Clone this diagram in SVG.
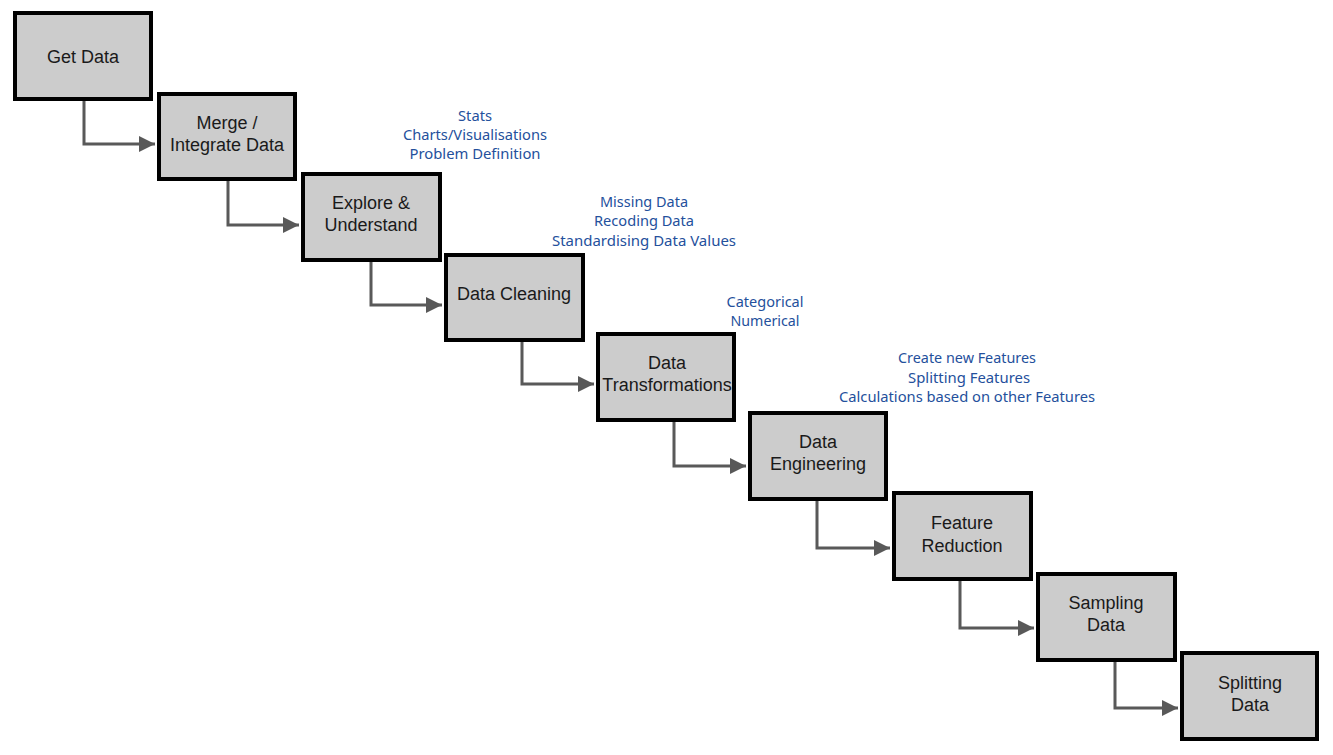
<svg xmlns="http://www.w3.org/2000/svg" width="1333" height="755" viewBox="0 0 1333 755">
<style>
.box{fill:#cccccc;stroke:#000;stroke-width:4}
.lbl{font-family:"Liberation Sans",Arial,sans-serif;font-size:18px;fill:#1a1a1a;text-anchor:middle}
.note{font-family:"Noto Sans","DejaVu Sans",sans-serif;font-size:14px;fill:#24509c;text-anchor:middle}
.conn{fill:none;stroke:#595959;stroke-width:3}
</style>
<defs>
<marker id="arr" markerUnits="userSpaceOnUse" markerWidth="16" markerHeight="16" viewBox="0 0 15 15" refX="15" refY="7.5" orient="auto">
<path d="M0,0 L15,7.5 L0,15 Z" fill="#595959"/>
</marker>
</defs>
<rect width="1333" height="755" fill="#fff"/>
<g id="connectors">
<path class="conn" d="M84,101 V144 H155" marker-end="url(#arr)"/>
<path class="conn" d="M228,181 V225 H299" marker-end="url(#arr)"/>
<path class="conn" d="M371,262 V305 H442" marker-end="url(#arr)"/>
<path class="conn" d="M522,342 V384 H594" marker-end="url(#arr)"/>
<path class="conn" d="M674,422 V466 H746" marker-end="url(#arr)"/>
<path class="conn" d="M817,501 V548 H890" marker-end="url(#arr)"/>
<path class="conn" d="M960,581 V628 H1034" marker-end="url(#arr)"/>
<path class="conn" d="M1115,662 V708 H1178" marker-end="url(#arr)"/>
</g>
<g id="n1"><rect class="box" x="15" y="13" width="136" height="86"/><text class="lbl" x="83" y="63">Get Data</text></g>
<g id="n2"><rect class="box" x="159" y="94" width="136" height="85"/><text class="lbl" x="227" y="129">Merge /</text><text class="lbl" x="227" y="151">Integrate Data</text></g>
<g id="n3"><rect class="box" x="303" y="174" width="137" height="86"/><text class="lbl" x="371" y="209">Explore &amp;</text><text class="lbl" x="371" y="231">Understand</text></g>
<g id="n4"><rect class="box" x="446" y="255" width="137" height="85"/><text class="lbl" x="514" y="300">Data Cleaning</text></g>
<g id="n5"><rect class="box" x="598" y="334" width="136" height="86"/><text class="lbl" x="667" y="369">Data</text><text class="lbl" x="667" y="391">Transformations</text></g>
<g id="n6"><rect class="box" x="750" y="413" width="136" height="86"/><text class="lbl" x="818" y="448">Data</text><text class="lbl" x="818" y="470">Engineering</text></g>
<g id="n7"><rect class="box" x="894" y="493" width="137" height="86"/><text class="lbl" x="962" y="529">Feature</text><text class="lbl" x="962" y="552">Reduction</text></g>
<g id="n8"><rect class="box" x="1038" y="574" width="137" height="86"/><text class="lbl" x="1106" y="609">Sampling</text><text class="lbl" x="1106" y="631">Data</text></g>
<g id="n9"><rect class="box" x="1182" y="653" width="135" height="86"/><text class="lbl" x="1250" y="689">Splitting</text><text class="lbl" x="1250" y="711">Data</text></g>
<g id="notes">
<text class="note" x="475" y="121" textLength="34" lengthAdjust="spacingAndGlyphs">Stats</text>
<text class="note" x="475" y="140" textLength="144" lengthAdjust="spacingAndGlyphs">Charts/Visualisations</text>
<text class="note" x="475" y="159" textLength="131" lengthAdjust="spacingAndGlyphs">Problem Definition</text>
<text class="note" x="644" y="207" textLength="88" lengthAdjust="spacingAndGlyphs">Missing Data</text>
<text class="note" x="644" y="226" textLength="100" lengthAdjust="spacingAndGlyphs">Recoding Data</text>
<text class="note" x="644" y="246" textLength="184" lengthAdjust="spacingAndGlyphs">Standardising Data Values</text>
<text class="note" x="765" y="307" textLength="77" lengthAdjust="spacingAndGlyphs">Categorical</text>
<text class="note" x="765" y="326" textLength="69" lengthAdjust="spacingAndGlyphs">Numerical</text>
<text class="note" x="967" y="363" textLength="138" lengthAdjust="spacingAndGlyphs">Create new Features</text>
<text class="note" x="969" y="383" textLength="122" lengthAdjust="spacingAndGlyphs">Splitting Features</text>
<text class="note" x="967" y="402" textLength="256" lengthAdjust="spacingAndGlyphs">Calculations based on other Features</text>
</g>
</svg>
